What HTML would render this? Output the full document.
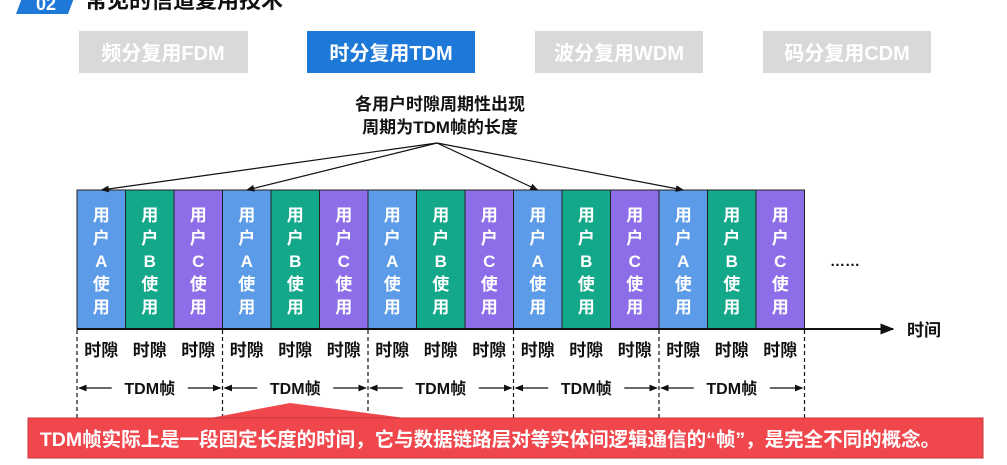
<!DOCTYPE html>
<html><head><meta charset="utf-8"><style>
body{margin:0;width:1007px;height:460px;overflow:hidden;background:#fff;font-family:"Liberation Sans","Noto Sans CJK SC",sans-serif;}
svg text{font-family:"Liberation Sans","Noto Sans CJK SC",sans-serif;font-weight:bold;}
</style></head><body>
<svg width="1007" height="460" viewBox="0 0 1007 460" xmlns="http://www.w3.org/2000/svg">
<defs>
<marker id="ah" viewBox="0 0 10 10" refX="9" refY="5" markerWidth="7" markerHeight="7" orient="auto"><path d="M0,1 L10,5 L0,9 z" fill="#111"/></marker>
</defs>
<polygon points="22,-2 74,-2 68,14 16,14" fill="#1e78d7"/>
<text x="36" y="10" font-size="18" fill="#fff">02</text>
<text x="85" y="8" font-size="22" fill="#111">常见的信道复用技术</text>
<g><rect x="79" y="31" width="169" height="42" fill="#d9d9d9"/><text x="163" y="60" font-size="20" fill="#fff" text-anchor="middle">频分复用FDM</text></g>
<g><rect x="307" y="31" width="168" height="42" fill="#1e78d7"/><text x="391" y="60" font-size="20" fill="#fff" text-anchor="middle">时分复用TDM</text></g>
<g><rect x="535" y="31" width="168" height="42" fill="#d9d9d9"/><text x="619" y="60" font-size="20" fill="#fff" text-anchor="middle">波分复用WDM</text></g>
<g><rect x="763" y="31" width="168" height="42" fill="#d9d9d9"/><text x="847" y="60" font-size="20" fill="#fff" text-anchor="middle">码分复用CDM</text></g>
<text x="440" y="110" font-size="17" fill="#111" text-anchor="middle">各用户时隙周期性出现</text>
<text x="440" y="133" font-size="17" fill="#111" text-anchor="middle">周期为TDM帧的长度</text>
<g id="cells"></g>
<line x1="77" y1="329" x2="893" y2="329" stroke="#111" stroke-width="2" marker-end="url(#ah)"/>
<text x="907" y="336" font-size="17" fill="#111">时间</text>
<text x="830" y="266" font-size="15" fill="#111">……</text>
<polygon points="200,420 290,403 420,420" fill="#f0474d"/>
<rect x="28" y="418" width="955" height="40" fill="#f0474d" stroke="#c9353a"/>
<text x="490" y="446" font-size="19.5" fill="#fff" text-anchor="middle">TDM帧实际上是一段固定长度的时间，它与数据链路层对等实体间逻辑通信的“帧”，是完全不同的概念。</text>
</svg>
<script>
const users=['A','B','C'];
const colors=['#5b9be8','#14a88a','#8e6ee8'];
const frames=5;
const arrowFrames=[0,1,3,4];
const NS='http://www.w3.org/2000/svg';
const cellG=document.getElementById('cells');
const X0=77,CW=48.5,CTOP=190,CBOT=329;
function mk(t,a){const e=document.createElementNS(NS,t);for(const k in a)e.setAttribute(k,a[k]);return e;}
for(let f=0;f<frames;f++){
 for(let u=0;u<3;u++){
  const i=f*3+u,x=X0+i*CW;
  const r=mk('rect',{x:x,y:CTOP,width:CW,height:CBOT-CTOP,fill:colors[u],stroke:'#222','stroke-width':1});
  
  
  cellG.appendChild(r);
  const chars=['用','户',users[u],'使','用'];
  chars.forEach((c,k)=>{const t=mk('text',{x:x+CW/2,y:221+k*23,'font-size':17,fill:'#fff','text-anchor':'middle'});t.textContent=c;
   
   
   cellG.appendChild(t);});
  const s=mk('text',{x:x+CW/2,y:356,'font-size':17,fill:'#111','text-anchor':'middle'});s.textContent='时隙';
  
  
  cellG.appendChild(s);
 }
 const fx=X0+f*3*CW,fw=3*CW;
 const t=mk('text',{x:fx+fw/2,y:394,'font-size':16,fill:'#111','text-anchor':'middle'});t.textContent='TDM帧';
 
 
 cellG.appendChild(t);
 const l1=mk('line',{x1:fx+fw/2-38,y1:388,x2:fx+2,y2:388,stroke:'#111','stroke-width':1.2,'marker-end':'url(#ah)'});
 
 
 cellG.appendChild(l1);
 const l2=mk('line',{x1:fx+fw/2+38,y1:388,x2:fx+fw-2,y2:388,stroke:'#111','stroke-width':1.2,'marker-end':'url(#ah)'});
 
 
 cellG.appendChild(l2);
}
for(let f=0;f<=frames;f++){
 const x=X0+f*3*CW;
 const d=mk('line',{x1:x,y1:330,x2:x,y2:420,stroke:'#111','stroke-width':1.2,'stroke-dasharray':'4,3'});
 
 
 cellG.appendChild(d);
}
arrowFrames.forEach(f=>{
 const x=X0+f*3*CW+CW/2;
 const a=mk('line',{x1:437,y1:143,x2:x,y2:190,stroke:'#111','stroke-width':1.2,'marker-end':'url(#ah)'});
 
 
 cellG.appendChild(a);
});
</script>
</body></html>
